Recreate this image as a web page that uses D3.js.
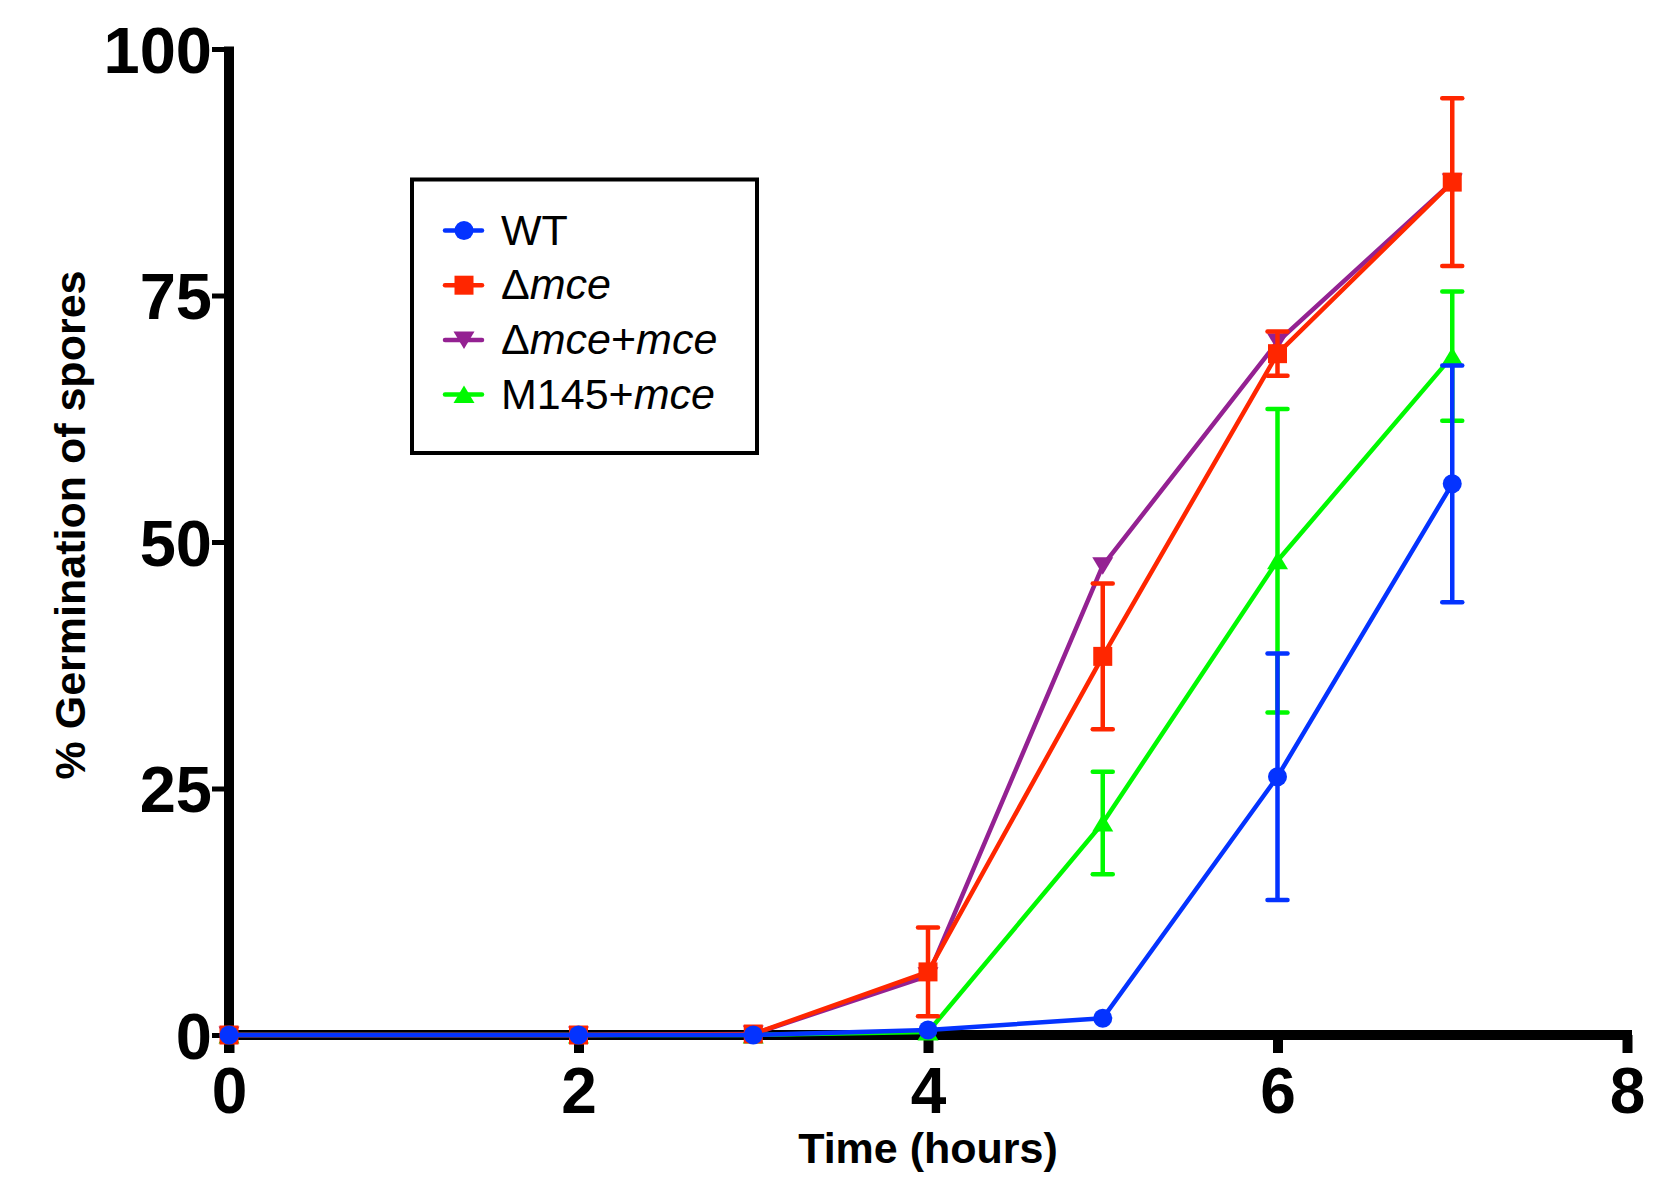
<!DOCTYPE html>
<html>
<head>
<meta charset="utf-8">
<script src="https://cdn.jsdelivr.net/npm/d3@7"></script>
<style>
  html, body { margin: 0; padding: 0; background: #fff; }
  svg { display: block; font-family: "Liberation Sans", Arial, Helvetica, sans-serif; }
</style>
</head>
<body>
<svg id="chart" width="1654" height="1181"></svg>
<script>
// ---- data ----
const times = [0, 2, 3, 4, 5, 6, 7];
const xTicks = [0, 2, 4, 6, 8];
const yTicks = [0, 25, 50, 75, 100];

const wtMean   = [0, 0, 0, 0.5, 1.7, 26.2, 55.9];
const wtErr    = [0, 0, 0, 0, 0, 12.5, 12.0];
const dmceMean = [0, 0, 0.1, 6.4, 38.4, 69.1, 86.5];
const dmceErr  = [0, 0, 0, 4.5, 7.4, 2.25, 8.5];
const compMean = [0, 0, 0.1, 6.0, 47.6, 70.3, 86.5];
const compErr  = [0, 0, 0, 0, 0, 0, 0];
const m145Mean = [0, 0, 0, 0.3, 21.5, 48.1, 68.85];
const m145Err  = [0, 0, 0, 0, 5.2, 15.4, 6.55];

const seriesNames = ["WT", "Δmce", "Δmce+mce", "M145+mce"];
const seriesColors = ["#0433ff", "#ff2600", "#942192", "#00f900"];
const seriesShapes = ["circle", "square", "triDown", "triUp"];

const series = [
  { name: seriesNames[0], color: seriesColors[0], shape: seriesShapes[0], mean: wtMean, err: wtErr },
  { name: seriesNames[1], color: seriesColors[1], shape: seriesShapes[1], mean: dmceMean, err: dmceErr },
  { name: seriesNames[2], color: seriesColors[2], shape: seriesShapes[2], mean: compMean, err: compErr },
  { name: seriesNames[3], color: seriesColors[3], shape: seriesShapes[3], mean: m145Mean, err: m145Err }
];

// ---- layout ----
const svg = d3.select("#chart");
const x = d3.scaleLinear().domain([0, 8]).range([229, 1627]);
const y = d3.scaleLinear().domain([0, 100]).range([1035, 49]);

function markerPath(shape) {
  if (shape === "circle") return "M9.5,0A9.5,9.5 0 1,1 -9.5,0A9.5,9.5 0 1,1 9.5,0Z";
  if (shape === "square") return "M-9.5,-9.5H9.5V9.5H-9.5Z";
  if (shape === "triUp") return "M0,-9L10.5,8.5H-10.5Z";
  if (shape === "triDown") return "M0,9L10.5,-8.5H-10.5Z";
}

// ---- axes ----
const yAxis = svg.append("g")
  .attr("transform", `translate(${x(0)},0)`)
  .call(d3.axisLeft(y).tickValues(yTicks).tickSize(17).tickSizeOuter(0).tickPadding(0));
yAxis.select(".domain")
  .attr("d", `M0,${y(100) - 2.5}V${y(0) + 18}`)
  .attr("stroke", "#000").attr("stroke-width", 10).attr("fill", "none");
yAxis.selectAll(".tick line").attr("stroke", "#000").attr("stroke-width", 5);
yAxis.selectAll(".tick text")
  .attr("font-size", 65).attr("font-weight", "bold").attr("fill", "#000")
  .attr("font-family", "'Liberation Sans', Arial, sans-serif")
  .attr("dy", "0.36em");

const xAxis = svg.append("g")
  .attr("transform", `translate(0,${y(0)})`)
  .call(d3.axisBottom(x).tickValues(xTicks).tickSize(18).tickSizeOuter(0).tickPadding(14));
xAxis.select(".domain")
  .attr("d", `M${x(0) - 5},0H${x(8) + 5}`)
  .attr("stroke", "#000").attr("stroke-width", 10).attr("fill", "none");
xAxis.selectAll(".tick line").attr("stroke", "#000").attr("stroke-width", 10);
xAxis.selectAll(".tick text")
  .attr("font-size", 64).attr("font-weight", "bold").attr("fill", "#000")
  .attr("font-family", "'Liberation Sans', Arial, sans-serif")
  .attr("dy", "0.72em");

// axis titles
svg.append("text")
  .attr("x", (x(0) + x(8)) / 2).attr("y", 1163)
  .attr("text-anchor", "middle").attr("font-size", 43).attr("font-weight", "bold")
  .text("Time (hours)");
svg.append("text")
  .attr("transform", "translate(85,525) rotate(-90)")
  .attr("text-anchor", "middle").attr("font-size", 43).attr("font-weight", "bold")
  .text("% Germination of spores");

// ---- data series (drawn bottom to top: last series first) ----
const line = d3.line().x((d, i) => x(times[i])).y(d => y(d));
const plot = svg.append("g");
series.slice().reverse().forEach(s => {
  const g = plot.append("g");
  g.append("path").datum(s.mean)
    .attr("d", line).attr("fill", "none").attr("stroke", s.color)
    .attr("stroke-width", 4.5).attr("stroke-linejoin", "round");
  const eb = g.append("g");
  s.mean.forEach((m, i) => {
    const e = s.err[i];
    if (e <= 0) return;
    const cx = x(times[i]);
    eb.append("line").attr("x1", cx).attr("x2", cx).attr("y1", y(m + e)).attr("y2", y(m - e))
      .attr("stroke", s.color).attr("stroke-width", 4.5);
    [m + e, m - e].forEach(v => {
      eb.append("line").attr("x1", cx - 10).attr("x2", cx + 10).attr("y1", y(v)).attr("y2", y(v))
        .attr("stroke", s.color).attr("stroke-width", 4.5).attr("stroke-linecap", "round");
    });
  });
  g.selectAll("path.mk").data(s.mean).enter().append("path").attr("class", "mk")
    .attr("d", markerPath(s.shape))
    .attr("transform", (d, i) => `translate(${x(times[i])},${y(d)})`)
    .attr("fill", s.color);
});

// ---- legend ----
const leg = svg.append("g");
leg.append("rect").attr("x", 412).attr("y", 179.5).attr("width", 345).attr("height", 273.5)
  .attr("fill", "#fff").attr("stroke", "#000").attr("stroke-width", 4);
const legendTexts = [
  [["WT", false]],
  [["Δ", false], ["mce", true]],
  [["Δ", false], ["mce", true], ["+", false], ["mce", true]],
  [["M145+", false], ["mce", true]]
];
series.forEach((s, i) => {
  const cy = 230.5 + i * 54.7;
  leg.append("line").attr("x1", 445).attr("x2", 482).attr("y1", cy).attr("y2", cy)
    .attr("stroke", s.color).attr("stroke-width", 4.5).attr("stroke-linecap", "round");
  leg.append("path").attr("d", markerPath(s.shape))
    .attr("transform", `translate(464,${cy})`).attr("fill", s.color);
  const t = leg.append("text").attr("x", 501).attr("y", cy + 14).attr("font-size", 43);
  legendTexts[i].forEach(([txt, it]) => {
    t.append("tspan").attr("font-style", it ? "italic" : "normal").text(txt);
  });
});
</script>
</body>
</html>
